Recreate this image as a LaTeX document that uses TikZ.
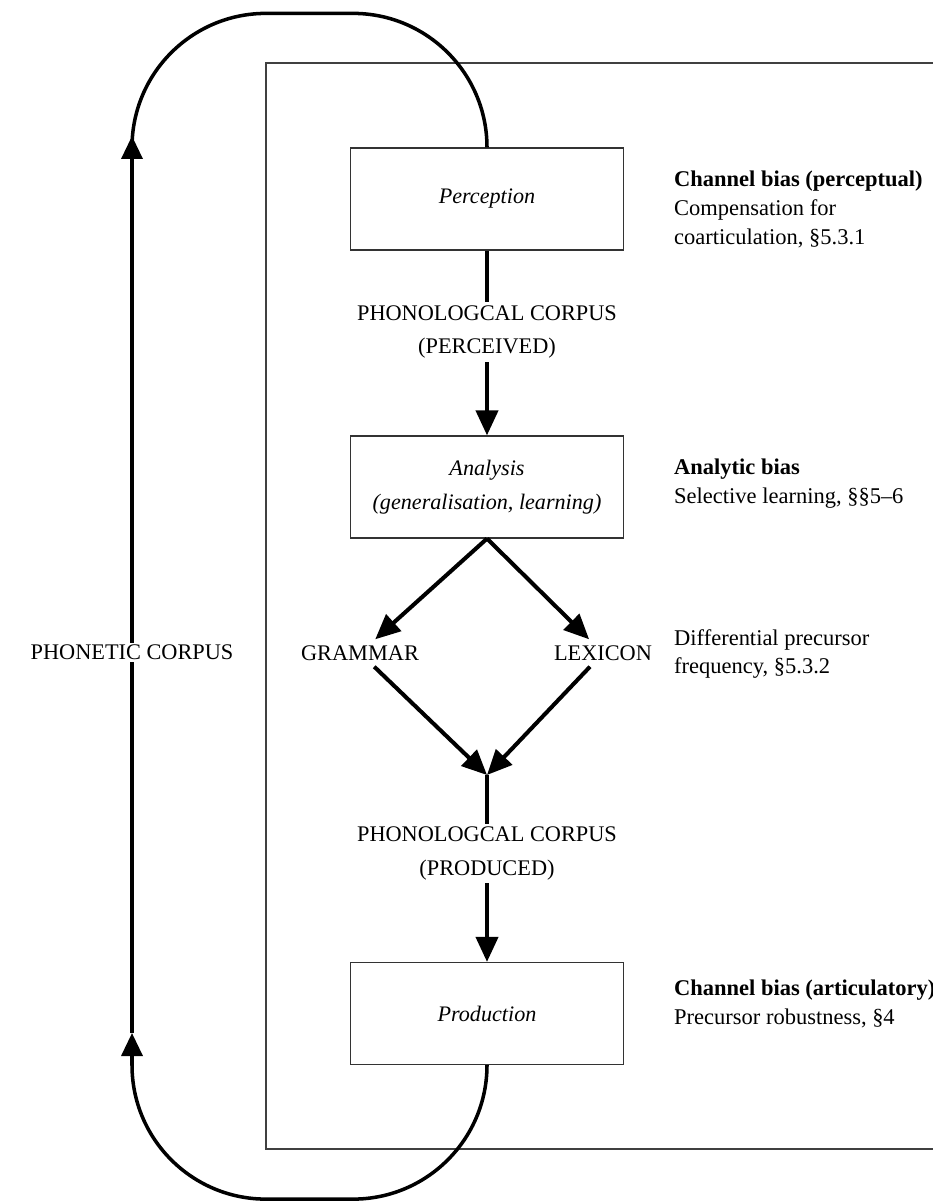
\documentclass[tikz,border=0pt]{standalone}
\usepackage{fontspec}
\setmainfont{Liberation Serif}
\usetikzlibrary{arrows.meta, positioning}

\begin{document}
\begin{tikzpicture}[
  box/.style={draw=black!80, line width=0.7pt, minimum width=5.46cm, minimum height=2.04cm, align=center, font=\fontsize{12.6}{19}\selectfont\itshape},
  lbl/.style={align=center, font=\fontsize{12.7}{19}\selectfont},
  note/.style={anchor=west, align=left, font=\fontsize{12.8}{16.5}\selectfont},
  flow/.style={line width=2.3pt, -{Triangle[length=0.5cm, width=0.44cm]}},
  loopline/.style={line width=2pt}]
\useasboundingbox (0,0) rectangle (18.66,-24.02);
\clip (0,0) rectangle (18.66,-24.02);
\draw[black!75, line width=0.7pt] (5.32,-1.26) rectangle (19.5,-22.98);
% boxes
\node[box] (perception) at (9.74,-3.98) {Perception};
\node[box] (analysis) at (9.74,-9.74) {Analysis\\(generalisation, learning)};
\node[box] (production) at (9.74,-20.27) {Production};
\node[lbl] (grammar) at (7.2,-13.06) {GRAMMAR};
\node[lbl] (lexicon) at (12.06,-13.06) {LEXICON};
\coordinate (merge) at (9.74,-15.5);
% flow
\draw[flow] (perception) -- node[lbl, fill=white, inner sep=2pt, pos=0.44] (perceived) {PHONOLOGCAL CORPUS\\(PERCEIVED)} (analysis);
\draw[flow] (analysis.south) -- (grammar);
\draw[flow] (analysis.south) -- (lexicon);
\draw[flow] (grammar) -- (merge);
\draw[flow] (lexicon) -- (merge);
\draw[flow] (merge) -- node[lbl, fill=white, inner sep=2pt, pos=0.42] (produced) {PHONOLOGCAL CORPUS\\(PRODUCED)} (production);
% loop
\coordinate (upL) at (2.64,-2.72);
\coordinate (lowL) at (2.64,-20.66);
\draw[loopline, -{Triangle[length=0.46cm, width=0.42cm]}] (production.south) arc[start angle=0, end angle=-90, radius=2.68] -- ++(-1.74,0) arc[start angle=-90, end angle=-180, radius=2.68] -- (lowL);
\draw[loopline, -{Triangle[length=0.46cm, width=0.42cm]}] (lowL) -- node[lbl, fill=white, inner sep=1pt, pos=0.424] (phonetic) {PHONETIC CORPUS} (upL);
\draw[loopline] (perception.north) arc[start angle=0, end angle=90, radius=2.68] -- ++(-1.74,0) arc[start angle=90, end angle=180, radius=2.68];
% notes
\node[note] (chanperc) at (13.36,-4.18) {\textbf{Channel bias (perceptual)}\\Compensation for\\coarticulation, §5.3.1};
\node[note] (analytic) at (13.36,-9.68) {\textbf{Analytic bias}\\Selective learning, §§5–6};
\node[note] (precfreq) at (13.36,-13.08) {Differential precursor\\frequency, §5.3.2};
\node[note] (chanartic) at (13.36,-20.08) {\textbf{Channel bias (articulatory)}\\Precursor robustness, §4};
\end{tikzpicture}
\end{document}
